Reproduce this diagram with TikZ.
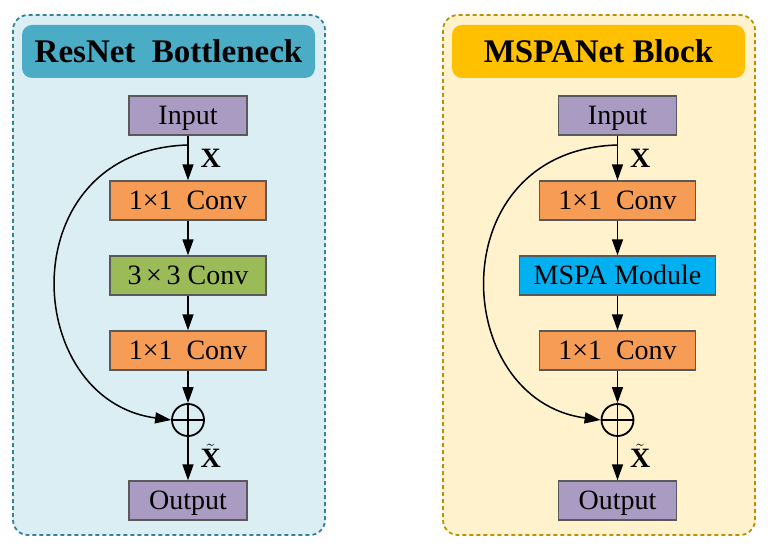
\documentclass[tikz,border=0pt]{standalone}
\usepackage{fontspec}
\setmainfont{Liberation Serif}
\usepackage{tikz}
\usetikzlibrary{arrows.meta}
\definecolor{resbg}{HTML}{DBEEF4}
\definecolor{resline}{HTML}{31849B}
\definecolor{restitle}{HTML}{4BACC6}
\definecolor{mspbg}{HTML}{FFF2CC}
\definecolor{mspline}{HTML}{BF9000}
\definecolor{msptitle}{HTML}{FFC000}
\definecolor{io}{HTML}{A99BC1}
\definecolor{conv}{HTML}{F69C55}
\definecolor{convg}{HTML}{9BBB59}
\definecolor{mspa}{HTML}{00B0F0}
\definecolor{edge}{HTML}{595959}
\tikzset{
  panel/.style={line width=1.8pt, dash pattern=on 4pt off 3pt, rounded corners=15pt},
  title/.style={rounded corners=10pt},
  ttext/.style={font=\fontsize{33}{36}\selectfont\bfseries, text height=22pt, text depth=0pt},
  blk/.style={draw=edge, line width=1.3pt, minimum height=39pt, inner sep=0pt,
    text height=18.5pt, text depth=0pt, font=\fontsize{28}{30}\selectfont},
  iobox/.style={blk, fill=io, minimum width=118pt},
  convbox/.style={blk, fill=conv, minimum width=156pt},
  plus/.style={circle, draw, line width=1.8pt, minimum size=32pt, inner sep=0pt},
  flow/.style={line width=1.5pt, -{Triangle[length=16pt,width=11pt]}},
  sym/.style={font=\fontsize{28}{30}\selectfont, anchor=west},
}

\begin{document}
\begin{tikzpicture}[x=1pt, y=-1pt]
  \useasboundingbox (0,0) rectangle (768,548);

  % ResNet bottleneck
  \draw[panel, draw=resline, fill=resbg] (13,15) rectangle (325,535);
  \fill[title, restitle] (22,25) rectangle (315,78);
  \node[ttext] (rtitle) at (168.5,51.5) {ResNet\ \ Bottleneck};

  \node[iobox] (rin) at (188,115.5) {Input};
  \node[convbox] (rc1) at (188,200.5) {1×1\ \ Conv};
  \node[convbox, fill=convg] (rc2) at (188,275.5) {3\,×\,3 Conv};
  \node[convbox] (rc3) at (188,350.5) {1×1\ \ Conv};
  \node[plus] (radd) at (188,420) {};
  \node[iobox] (rout) at (188,500.5) {Output};
  \draw[line width=1.8pt] (radd.north) -- (radd.south) (radd.west) -- (radd.east);
  \coordinate (rsplit) at (188,145);

  \draw[flow] (rin) -- (rc1);
  \draw[flow] (rc1) -- (rc2);
  \draw[flow] (rc2) -- (rc3);
  \draw[flow] (rc3) -- (radd);
  \draw[flow] (radd) -- (rout);
  \draw[flow] (rsplit) .. controls (10,150) and (20,400) .. (radd.west);
  \node[sym] (rx) at (197,158) {$\mathbf{X}$};
  \node[sym] (rxt) at (197,456) {$\tilde{\mathbf{X}}$};

  % MSPANet block
  \draw[panel, draw=mspline, fill=mspbg] (443,15) rectangle (755,535);
  \fill[title, msptitle] (452,25) rectangle (745,78);
  \node[ttext] (mtitle) at (598.5,51.5) {MSPANet Block};

  \node[iobox] (min) at (617.5,115.5) {Input};
  \node[convbox] (mc1) at (617.5,200.5) {1×1\ \ Conv};
  \node[blk, fill=mspa, minimum width=196pt] (mmod) at (617.5,275.5) {MSPA Module};
  \node[convbox] (mc3) at (617.5,350.5) {1×1\ \ Conv};
  \node[plus] (madd) at (617.5,420) {};
  \node[iobox] (mout) at (617.5,500.5) {Output};
  \draw[line width=1.8pt] (madd.north) -- (madd.south) (madd.west) -- (madd.east);
  \coordinate (msplit) at (617.5,145);

  \draw[flow] (min) -- (mc1);
  \draw[flow] (mc1) -- (mmod);
  \draw[flow] (mmod) -- (mc3);
  \draw[flow] (mc3) -- (madd);
  \draw[flow] (madd) -- (mout);
  \draw[flow] (msplit) .. controls (439.5,150) and (449.5,400) .. (madd.west);
  \node[sym] (mx) at (626.5,158) {$\mathbf{X}$};
  \node[sym] (mxt) at (626.5,456) {$\tilde{\mathbf{X}}$};
\end{tikzpicture}
\end{document}
